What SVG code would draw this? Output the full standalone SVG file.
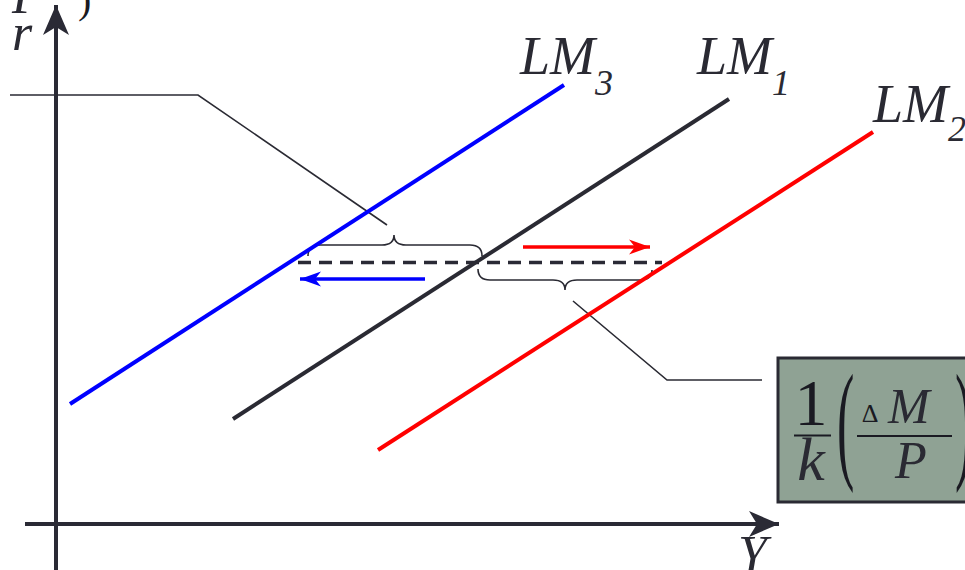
<svg xmlns="http://www.w3.org/2000/svg" width="965" height="570" viewBox="0 0 965 570">
<defs>
<style>
.ax{stroke:#2a2a35;stroke-width:4;fill:none}
.thin{stroke:#2a2a33;stroke-width:1.6;fill:none}
.lm{stroke-width:4;fill:none}
.it{font-family:"Liberation Serif","Times New Roman",serif;font-style:italic;fill:#2a2a33}
.rm{font-family:"Liberation Serif","Times New Roman",serif;fill:#1a1a22}
</style>
<marker id="ahAx" viewBox="0 0 32 30" refX="30" refY="15" markerWidth="32" markerHeight="30" markerUnits="userSpaceOnUse" orient="auto">
<path d="M0,2 L30,15 L0,28 L8,15 Z" fill="#2a2a35"/>
</marker>
<marker id="ahR" viewBox="0 0 22 16" refX="21" refY="8" markerWidth="22" markerHeight="16" markerUnits="userSpaceOnUse" orient="auto">
<path d="M0,0.5 L21,8 L0,15.5 L6,8 Z" fill="#ff0000"/>
</marker>
<marker id="ahB" viewBox="0 0 22 16" refX="21" refY="8" markerWidth="22" markerHeight="16" markerUnits="userSpaceOnUse" orient="auto">
<path d="M0,0.5 L21,8 L0,15.5 L6,8 Z" fill="#0000ff"/>
</marker>
</defs>
<rect width="965" height="570" fill="#ffffff"/>

<g id="axes">
<line class="ax" x1="56" y1="570" x2="56" y2="5" marker-end="url(#ahAx)"/>
<line class="ax" x1="25" y1="524" x2="779" y2="524" marker-end="url(#ahAx)"/>
<text class="it" x="12" y="13" font-size="52">P</text>
<text class="rm" x="78" y="13" font-size="40">)</text>
<text class="it" x="12" y="50" font-size="52">r</text>
<text class="it" x="738" y="572" font-size="52">Y</text>
</g>

<g id="connectors">
<polyline class="thin" points="10,95 198,95 387,225"/>
<polyline class="thin" points="573,301 667,380 762,380"/>
<line x1="298" y1="262.5" x2="662" y2="262.5" stroke="#2a2a35" stroke-width="3.5" stroke-dasharray="13,8"/>
<path class="thin" d="M308,256 Q308,245 320,245 L382,245 Q394,245 394,235 Q394,245 406,245 L470,245 Q482,245 482,256"/>
<path class="thin" d="M478,269 Q478,280 490,280 L553,280 Q565,280 565,290 Q565,280 577,280 L640,280 Q652,280 652,270"/>
<line x1="523" y1="247" x2="650" y2="247" stroke="#ff0000" stroke-width="3.5" marker-end="url(#ahR)"/>
<line x1="425" y1="279" x2="300" y2="279" stroke="#0000ff" stroke-width="3.5" marker-end="url(#ahB)"/>
</g>

<g id="lm3">
<line class="lm" stroke="#0000ff" x1="70" y1="404" x2="564" y2="85"/>
<text class="it" x="520" y="74" font-size="54">LM<tspan font-size="36" dy="21">3</tspan></text>
</g>
<g id="lm1">
<line class="lm" stroke="#2a2a33" x1="233" y1="419" x2="729" y2="99"/>
<text class="it" x="697" y="74" font-size="54">LM<tspan font-size="36" dy="21">1</tspan></text>
</g>
<g id="lm2">
<line class="lm" stroke="#ff0000" x1="378" y1="450" x2="873" y2="132"/>
<text class="it" x="873" y="122" font-size="54">LM<tspan font-size="36" dy="19">2</tspan></text>
</g>

<g id="formula">
<rect x="778" y="358" width="200" height="144" fill="#8fa294" stroke="#2a2a33" stroke-width="3"/>
<text class="rm" x="811" y="425" font-size="66" text-anchor="middle">1</text>
<line x1="794" y1="435.5" x2="831" y2="435.5" stroke="#1a1a22" stroke-width="2"/>
<text class="it" x="811" y="480" font-size="62" text-anchor="middle">k</text>
<text class="rm" transform="translate(837,0) scale(1.3,3.3)" x="0" y="141" font-size="40" fill="#3a3a40">(</text>
<text class="rm" x="870" y="422" font-size="26" text-anchor="middle">Δ</text>
<text class="it" x="888" y="423" font-size="50">M</text>
<line x1="857" y1="436" x2="952" y2="436" stroke="#1a1a22" stroke-width="2"/>
<text class="it" x="911" y="478" font-size="52" text-anchor="middle">P</text>
<text class="rm" transform="translate(955,0) scale(1.3,3.3)" x="0" y="141" font-size="40" fill="#3a3a40">)</text>
</g>
</svg>
